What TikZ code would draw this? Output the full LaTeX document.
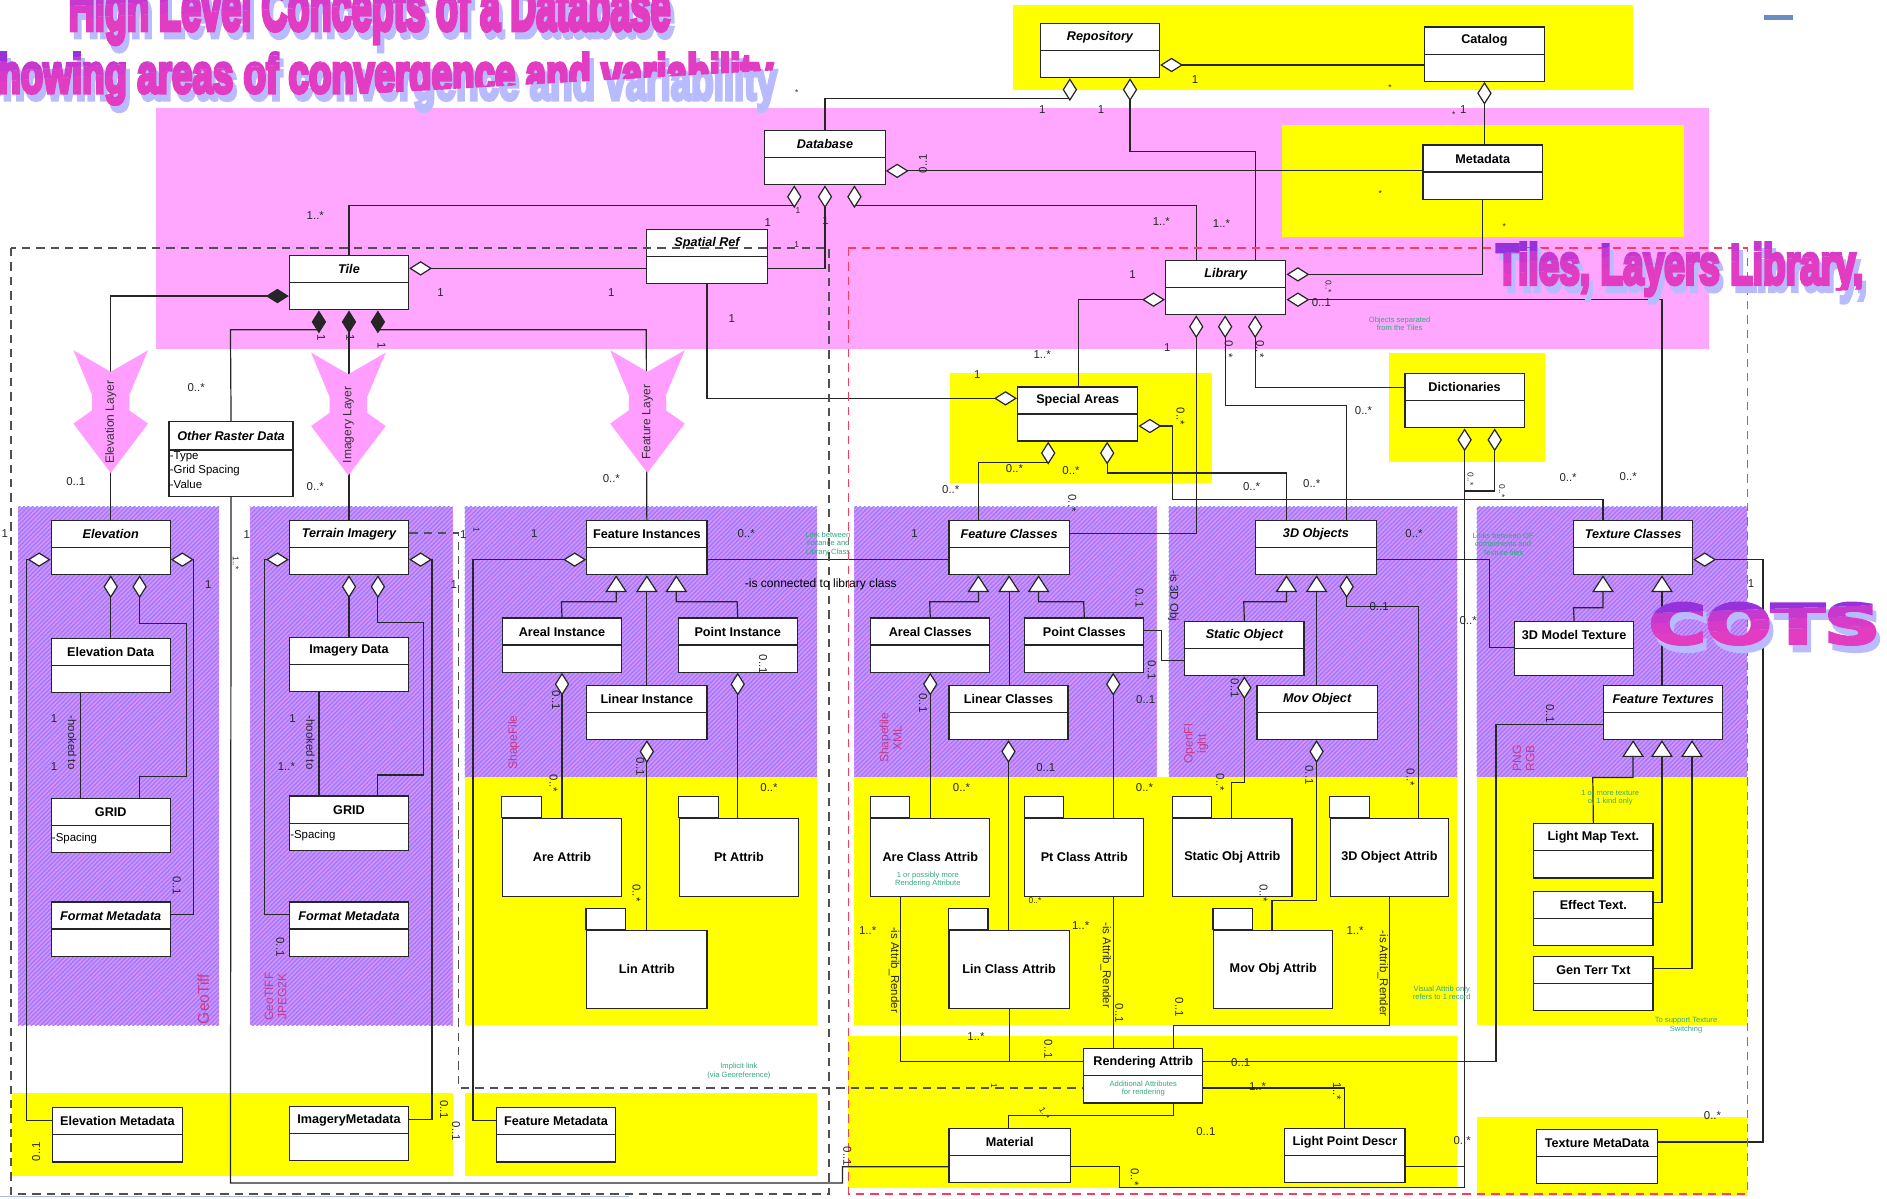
\documentclass[tikz,border=0pt]{standalone}
\usepackage{fontspec}
\setmainfont{Liberation Sans}
\newfontfamily\bannerfont{Liberation Sans}[BoldFeatures={FakeBold=7}]
\newfontfamily\heavyfont{DejaVu Sans}[BoldFeatures={FakeBold=5}]
\usepackage{graphicx}
\usetikzlibrary{arrows.meta,patterns.meta}

\definecolor{pinkband}{HTML}{FFA6FF}
\definecolor{arrowpink}{HTML}{FF9EFF}
\definecolor{ylw}{HTML}{FFFF00}
\definecolor{hatchbase}{HTML}{E58CF7}
\definecolor{hatchline}{HTML}{8C82FF}
\definecolor{notegreen}{HTML}{33A882}
\definecolor{fmtpink}{HTML}{C43C8C}
\definecolor{reddash}{HTML}{FF3A5C}
\definecolor{greydash}{HTML}{505050}
\definecolor{shadowlav}{HTML}{B8BCFF}
\definecolor{barblue}{HTML}{6A8CC4}
\definecolor{g0}{HTML}{9632DC}
\definecolor{g2}{HTML}{B236D4}
\definecolor{g3}{HTML}{C638CE}
\definecolor{g5}{HTML}{D83BC8}
\definecolor{g6}{HTML}{E23DC2}

\tikzset{
  conn/.style={draw=black!85, line width=1pt},
  aggS/.style={conn, {Diamond[fill=white,length=19pt,width=12pt]}-},
  compS/.style={conn, {Diamond[length=19pt,width=12pt]}-},
  genS/.style={conn, {Triangle[fill=white,length=14pt,width=18pt]}-},
  clsbox/.style={draw=black!85, line width=1pt, fill=white, anchor=north west,
    minimum height=45pt, inner sep=0pt},
  clsline/.style={draw=black!85, line width=1pt},
  clstitle/.style={font=\bfseries\fontsize{10.5}{12}\selectfont, inner sep=0pt},
  mult/.style={font=\fontsize{9.5}{11}\selectfont, inner sep=0pt, text=black!85},
  tiny/.style={font=\fontsize{7}{8}\selectfont},
  note/.style={font=\fontsize{6.3}{7}\selectfont, text=notegreen, align=center, inner sep=0pt},
  fmtlbl/.style={font=\fontsize{10}{11}\selectfont, text=fmtpink, rotate=90, align=center, inner sep=0pt},
  hatch/.style={preaction={fill=hatchbase}, pattern={Lines[angle=45,distance=2.6pt,line width=1.1pt]}, pattern color=hatchline},
  greydashed/.style={draw=greydash, line width=1.3pt, dash pattern=on 7pt off 5pt},
  reddashed/.style={draw=reddash, line width=1.3pt, dash pattern=on 7pt off 5pt},
  layertext/.style={rotate=90, font=\fontsize{10}{11}\selectfont, text=black!80, inner sep=0pt},
}

% class box: name, x, y, width, title
\newcommand{\umlclass}[5]{%
  \node[clsbox, minimum width=#4pt] (#1) at (#2,#3) {};
  \draw[clsline] ([yshift=-23pt]#1.north west) -- ([yshift=-23pt]#1.north east);
  \node[clstitle] at ([yshift=-11.8pt]#1.north) {#5};
}
% package box: name, x, tab top, width, title
\newcommand{\umlpkg}[5]{%
  \draw[clsline, fill=white] (#2,#3) rectangle ++(33,17.5);
  \node[clsbox, minimum width=#4pt, minimum height=65pt] (#1) at (#2,#3+17.5) {};
  \node[clstitle] at (#1.center) {#5};
}
% layer arrow: name, centre x, top y, text
\newcommand{\layerarrow}[4]{%
  \fill[arrowpink] (#2-31,#3) -- (#2,#3+18) -- (#2+31,#3) -- (#2+15.5,#3+37) -- (#2+15.5,#3+50)
    -- (#2+31,#3+61) -- (#2,#3+102) -- (#2-31,#3+61) -- (#2-15.5,#3+50) -- (#2-15.5,#3+37) -- cycle;
  \node[layertext] (#1) at (#2,#3+60) {#4};
}
% banner text with shadow and vertical colour ramp: x, y, angle, width, height, text
\newcommand{\gradtext}[6]{%
  \begin{scope}[shift={(#1,#2)}, rotate=#3]
    \node[anchor=base west, inner sep=0pt, text=shadowlav] at (3pt,-6pt) {\resizebox{#4pt}{#5pt}{#6}};
    \foreach \lo/\hi/\gcol in {-0.6/0.25/g6, 0.25/0.5/g5, 0.5/0.75/g3, 0.75/1.6/g0} {
      \begin{scope}
        \clip ({-30pt},{\lo*#5pt}) rectangle ({#4pt+30pt},{\hi*#5pt});
        \node[anchor=base west, inner sep=0pt, text=\gcol] at (0pt,0pt) {\resizebox{#4pt}{#5pt}{#6}};
      \end{scope}
    }
  \end{scope}
}

\begin{document}
\begin{tikzpicture}[x=1pt,y=-1pt]
\clip (0,0) rectangle (1568,996);
\fill[white] (0,0) rectangle (1568,996);

% ---------- coloured regions ----------
\fill[ylw] (842,4) rectangle (1357,75);
\fill[pinkband] (130,90) rectangle (1420,290);
\fill[ylw] (1065,104) rectangle (1399,197);
\fill[ylw] (789,310) rectangle (1007,401);
\fill[ylw] (1154,293) rectangle (1284,384);

\path[hatch] (15,421) rectangle (182,852);
\path[hatch] (208,421) rectangle (376,852);
\path[hatch] (386,421) rectangle (679,646);
\path[hatch] (710,421) rectangle (961,646);
\path[hatch] (971,421) rectangle (1211,646);
\path[hatch] (1227,421) rectangle (1452,646);

\fill[ylw] (386,646) rectangle (679,852);
\fill[ylw] (710,646) rectangle (1211,852);
\fill[ylw] (1227,646) rectangle (1452,852);
\fill[ylw] (705,861) rectangle (1211,987);
\fill[ylw] (10,908) rectangle (376,977);
\fill[ylw] (386,908) rectangle (679,977);
\fill[ylw] (1227,928) rectangle (1452,994);

\fill[barblue] (1466,12.5) rectangle (1490,17);
\draw[barblue!60, line width=0.8pt] (0,994.5) -- (523,994.5);

% ---------- boxes ----------
\umlclass{repo}{864}{19}{99}{\itshape Repository}
\umlclass{catalog}{1183}{22}{100}{Catalog}
\umlclass{database}{635}{108}{100}{\itshape Database}
\umlclass{metadata}{1182}{120}{99}{Metadata}
\umlclass{tile}{240}{212}{99}{\itshape Tile}
\umlclass{spatial}{537}{190}{100}{\itshape Spatial Ref}
\umlclass{library}{968}{216}{100}{\itshape Library}
\umlclass{special}{845}{321}{100}{Special Areas}
\umlclass{dict}{1167}{310}{99}{Dictionaries}

\node[clsbox, minimum width=103pt, minimum height=62pt] (other) at (140,350) {};
\draw[clsline] ([yshift=-24pt]other.north west) -- ([yshift=-24pt]other.north east);
\node[clstitle] at ([yshift=-12pt]other.north) {\itshape Other Raster Data};
\node[anchor=north west, align=left, inner sep=0pt, font=\fontsize{9.5}{12}\selectfont]
  at ([xshift=1pt,yshift=-25pt]other.north west) {-Type\\-Grid Spacing\\-Value};

\umlclass{elev}{42}{432}{99}{\itshape Elevation}
\umlclass{terrain}{240}{432}{99}{\itshape Terrain Imagery}
\umlclass{featinst}{487}{432}{100}{Feature Instances}
\umlclass{featcls}{788}{432}{100}{\itshape Feature Classes}
\umlclass{obj3d}{1043}{432}{100}{\itshape 3D Objects}
\umlclass{texcls}{1307}{432}{99}{\itshape Texture Classes}

\umlclass{elevdata}{42}{530}{99}{Elevation Data}
\umlclass{imgdata}{240}{529}{99}{Imagery Data}
\umlclass{arealinst}{417}{513}{99}{Areal Instance}
\umlclass{pointinst}{563}{513}{99}{Point Instance}
\umlclass{linearinst}{487}{569}{100}{Linear Instance}
\umlclass{arealcls}{723}{513}{99}{Areal Classes}
\umlclass{pointcls}{851}{513}{99}{Point Classes}
\umlclass{linearcls}{788}{569}{99}{Linear Classes}
\umlclass{staticobj}{984}{516}{99}{\itshape Static Object}
\umlclass{movobj}{1044}{569}{100}{\itshape Mov Object}
\umlclass{modeltex}{1258}{516}{99}{3D Model Texture}
\umlclass{feattex}{1332}{569}{99}{\itshape Feature Textures}

\umlclass{gridE}{42}{663}{99}{GRID}
\node[anchor=west, inner sep=0pt, font=\fontsize{9.5}{11}\selectfont] at ([xshift=1pt,yshift=-33.5pt]gridE.north west) {-Spacing};
\umlclass{gridI}{240}{661}{99}{GRID}
\node[anchor=west, inner sep=0pt, font=\fontsize{9.5}{11}\selectfont] at ([xshift=1pt,yshift=-33.5pt]gridI.north west) {-Spacing};
\umlclass{fmtE}{42}{749}{99}{\itshape Format Metadata}
\umlclass{fmtI}{240}{749}{99}{\itshape Format Metadata}

\umlpkg{areattr}{417}{662}{99}{Are Attrib}
\umlpkg{ptattr}{564}{662}{99}{Pt Attrib}
\umlpkg{linattr}{487}{755}{100}{Lin Attrib}
\umlpkg{areclsattr}{723}{662}{99}{Are Class Attrib}
\umlpkg{ptclsattr}{851}{662}{99}{Pt Class Attrib}
\umlpkg{linclsattr}{788}{755}{100}{Lin Class Attrib}
\umlpkg{staticattr}{974}{662}{99}{Static Obj Attrib}
\umlpkg{objattr}{1105}{662}{98}{3D Object Attrib}
\umlpkg{movattr}{1008}{755}{99}{Mov Obj Attrib}

\umlclass{lightmap}{1274}{684}{99}{Light Map Text.}
\umlclass{effect}{1274}{740}{99}{Effect Text.}
\umlclass{genterr}{1274}{794}{99}{Gen Terr Txt}

\umlclass{elevmeta}{43}{920}{108}{Elevation Metadata}
\umlclass{imgmeta}{240}{919}{99}{ImageryMetadata}
\umlclass{featmeta}{412}{920}{99}{Feature Metadata}
\umlclass{render}{900}{871}{99}{Rendering Attrib}
\umlclass{material}{788}{937}{101}{Material}
\umlclass{lightpt}{1067}{937}{100}{Light Point Descr}
\umlclass{texmeta}{1276}{938}{101}{Texture MetaData}

% ---------- connectors ----------
\draw[aggS] (repo.east |- 0,54) -- (catalog.west |- 0,54);
\draw[aggS] (repo.south -| 889,0) -- (889,82) -| (database.north);
\draw[aggS] (repo.south -| 939,0) -- (939,126) -| (library.north -| 1043,0);
\draw[aggS] (catalog.south) -- (catalog.south |- metadata.north);
\draw[aggS] (database.east |- 0,142) -- (metadata.west |- 0,142);
\draw[aggS] (database.south -| 660,0) -- (660,171) -| (tile.north);
\draw[aggS] (database.south) |- (spatial.east |- 0,223);
\draw[aggS] (database.south -| 710,0) -- (710,171) -| (library.north -| 994,0);
\draw[aggS] (tile.east |- 0,223) -- (spatial.west |- 0,223);
\draw[aggS] (special.west |- 0,331) -| (spatial.south);
\draw[aggS] (library.west |- 0,249) -| (special.north -| 896,0);
\draw[aggS] (library.south -| 994,0) |- (featcls.east |- 0,443);
\draw[aggS] (library.south -| 1018,0) |- (1119,337) -- (obj3d.north -| 1119,0);
\draw[aggS] (library.south -| 1043,0) |- (dict.west |- 0,322);
\draw[aggS] (library.east |- 0,228) -| (metadata.south -| 1232,0);
\draw[aggS] (library.east |- 0,249) -| (texcls.north -| 1381,0);
\draw[aggS] (special.south -| 871,0) |- (813,384) -- (featcls.north -| 813,0);
\draw[aggS] (special.south -| 920,0) |- (1069,393) -- (obj3d.north -| 1069,0);
\draw[aggS] (special.east |- 0,354) -| (974,415) -| (texcls.north -| 1332,0);
\draw[aggS] (dict.south -| 1217,0) -- (1217,987) -| (930,969.5) -- (material.east |- 0,969.5);
\draw[conn] (lightpt.east |- 0,969.5) -- (1217,969.5);
\draw[aggS] (dict.south -| 1242,0) |- (1217,408);

\draw[compS] (tile.west |- 0,246) -| (elev.north);
\draw[compS] (tile.south -| 265,0) |- (191.5,274) -- (other.north);
\draw[compS] (tile.south) -- (terrain.north);
\draw[compS] (tile.south -| 314,0) |- (537,274) -- (featinst.north);
\draw[conn] (other.south) -- (191.5,983) -| (700,969.5) -- (material.west |- 0,969.5);

\draw[aggS] (elev.west |- 0,465) -| (22,931) -- (elevmeta.west |- 0,931);
\draw[aggS] (elev.east |- 0,465) -| (161,760) -- (fmtE.east |- 0,760);
\draw[aggS] (elev.south) -- (elevdata.north);
\draw[aggS] (elev.south -| 116,0) |- (155,518) |- (116,645) -- (gridE.north -| 116,0);
\draw[conn] (elevdata.south -| 67,0) -- (gridE.north -| 67,0);

\draw[aggS] (terrain.west |- 0,465) -| (220,760) -- (fmtI.west |- 0,760);
\draw[aggS] (terrain.east |- 0,465) -| (359,930) -- (imgmeta.east |- 0,930);
\draw[aggS] (terrain.south) -- (imgdata.north);
\draw[aggS] (terrain.south -| 314,0) |- (352,517) |- (314,644) -- (gridI.north -| 314,0);
\draw[conn] (imgdata.south -| 265,0) -- (gridI.north -| 265,0);

\draw[aggS] (featinst.west |- 0,465) -| (393,931) -- (featmeta.west |- 0,931);
\draw[conn] (featinst.east |- 0,465) -- (featcls.west |- 0,465);
\draw[genS] (featinst.south -| 512,0) |- (466.5,500) -- (arealinst.north);
\draw[genS] (featinst.south) -- (linearinst.north);
\draw[genS] (featinst.south -| 562,0) |- (612.5,500) -- (pointinst.north);
\draw[aggS] (arealinst.south) -- (areattr.north);
\draw[aggS] (pointinst.south) -- (ptattr.north -| pointinst.south);
\draw[aggS] (linearinst.south) -- (linattr.north);

\draw[genS] (featcls.south -| 813,0) |- (772.5,500) -- (arealcls.north);
\draw[genS] (featcls.south) -- (linearcls.north -| featcls.south);
\draw[genS] (featcls.south -| 863,0) |- (900.5,500) -- (pointcls.north);
\draw[aggS] (arealcls.south) -- (areclsattr.north -| arealcls.south);
\draw[aggS] (pointcls.south -| 925,0) -- (ptclsattr.north -| 925,0);
\draw[aggS] (linearcls.south) -- (linclsattr.north -| linearcls.south);
\draw[conn] (pointcls.east |- 0,524) -| (965,549) -- (staticobj.west |- 0,549);
\draw[conn] (areclsattr.south -| 748,0) |- (render.west |- 0,882);
\draw[conn] (linclsattr.south) -- (linclsattr.south |- 0,882);
\draw[conn] (ptclsattr.south -| 925,0) -- (render.north -| 925,0);

\draw[genS] (obj3d.south -| 1069,0) |- (1033.5,500) -- (staticobj.north);
\draw[genS] (obj3d.south -| 1094,0) -- (movobj.north -| 1094,0);
\draw[aggS] (obj3d.south -| 1119,0) |- (1179,504) -- (objattr.north -| 1179,0);
\draw[aggS] (staticobj.south) |- (1023,650) -- (staticattr.north -| 1023,0);
\draw[aggS] (movobj.south -| 1094,0) |- (1057,748) -- (movattr.north -| 1057,0);
\draw[conn] (objattr.south) |- (975,852) -- (render.north -| 975,0);
\draw[conn] (obj3d.east |- 0,465) -| (1238,538) -- (modeltex.west |- 0,538);

\draw[genS] (texcls.south -| 1332,0) |- (1307.5,505) -- (modeltex.north);
\draw[genS] (texcls.south -| 1381,0) -- (feattex.north -| 1381,0);
\draw[aggS] (texcls.east |- 0,465) -| (1465,949) -- (texmeta.east |- 0,949);
\draw[genS] (feattex.south -| 1357,0) |- (1323.5,646) -- (lightmap.north);
\draw[genS] (feattex.south -| 1381,0) |- (effect.east |- 0,750);
\draw[genS] (feattex.south -| 1406,0) |- (genterr.east |- 0,805);
\draw[conn] (feattex.west |- 0,602) -| (1243,882) -- (render.east |- 0,882);

\draw[conn] (render.east |- 0,904) -| (lightpt.north -| 1117,0);
\draw[conn] (render.south -| 975,0) |- (838,927) -- (material.north -| 838,0);

\draw[greydashed] (terrain.east |- 0,443) -| (381,904) -- (render.west |- 0,904);

% ---------- layer arrows ----------
\layerarrow{elevlayer}{92}{291}{Elevation Layer}
\layerarrow{imglayer}{289.5}{293}{Imagery Layer}
\layerarrow{featlayer}{538}{291}{Feature Layer}

% ---------- grouping frames ----------
\draw[greydashed] (9,206) rectangle (689,992);
\draw[reddashed] (705,206) rectangle (1452,992);

% ---------- multiplicities and notes ----------
\node[mult] at (993,66) {1};
\node[mult] at (866,91) {1};
\node[mult] at (915,91) {1};
\node[mult, tiny] at (662,77) {*};
\node[mult, tiny] at (1155,73) {*};
\node[mult, tiny] at (1208,95) {*};
\node[mult] at (1216,91) {1};
\node[mult, rotate=90] at (767,136) {0..1};
\node[mult, tiny] at (1147,161) {*};
\node[mult, tiny] at (1250,188) {*};
\node[mult] at (262,179) {1..*};
\node[mult, tiny] at (663,175) {1};
\node[mult] at (638,185) {1};
\node[mult] at (686,183) {1};
\node[mult, tiny] at (662,203) {1};
\node[mult] at (965,184) {1..*};
\node[mult] at (1015,186) {1..*};
\node[mult] at (366,243) {1};
\node[mult] at (508,243) {1};
\node[mult] at (941,228) {1};
\node[mult] at (608,265) {1};
\node[mult] at (1098,251) {0..1};
\node[mult, tiny, rotate=-90] at (1104,238) {0..*};
\node[note] at (1163,269) {Objects separated\\from the Tiles};
\node[mult] at (866,295) {1..*};
\node[mult] at (970,289) {1};
\node[mult, rotate=-90] at (1021,290) {0..*};
\node[mult, rotate=-90] at (1047,290) {0..*};
\node[mult] at (812,311) {1};
\node[mult, rotate=-90] at (981,346) {0..*};
\node[mult] at (1133,341) {0..*};
\node[mult] at (843,389) {0..*};
\node[mult] at (890,391) {0..*};
\node[mult] at (790,407) {0..*};
\node[mult, rotate=-90] at (891,418) {0..*};
\node[mult] at (1040,404) {0..*};
\node[mult] at (1090,402) {0..*};
\node[mult, tiny, rotate=-90] at (1222,398) {0..*};
\node[mult, tiny, rotate=-90] at (1248,408) {0..*};
\node[mult] at (1303,397) {0..*};
\node[mult] at (1353,396) {0..*};

\node[mult, rotate=-90] at (267,281) {1};
\node[mult, rotate=-90] at (291,281) {1};
\node[mult, rotate=-90] at (317,287) {1};
\node[mult] at (163,322) {0..*};
\node[mult] at (63,400) {0..1};
\node[mult] at (262,404) {0..*};
\node[mult] at (508,398) {0..*};

\node[mult] at (4,443) {1};
\node[mult] at (205,444) {1};
\node[mult] at (173,486) {1};
\node[mult, tiny, rotate=-90] at (196,468) {1..*};
\node[mult] at (377,486) {1};
\node[mult] at (385,444) {1};
\node[mult, tiny, rotate=-90] at (396,440) {1};
\node[mult] at (444,443) {1};
\node[mult] at (620,443) {0..*};
\node[mult] at (760,443) {1};
\node[note] at (688,452) {Link between\\instance and\\Library Class};
\node[inner sep=0pt, font=\fontsize{10}{11}\selectfont] at (682,486) {-is connected to library class};
\node[mult] at (1175,443) {0..*};
\node[note] at (1249,452) {Links between OF\\components and\\Texture files};
\node[mult] at (1455,485) {1};
\node[mult] at (1146,504) {0..1};
\node[mult] at (1220,516) {0..*};
\node[mult, rotate=-90] at (975,495) {-is 3D Obj};
\node[mult, rotate=-90] at (947,497) {0..1};

\node[mult] at (45,597) {1};
\node[mult] at (45,637) {1};
\node[mult, rotate=-90] at (60,617) {-hooked to};
\node[mult] at (243,597) {1};
\node[mult] at (238,637) {1..*};
\node[mult, rotate=-90] at (258,617) {-hooked to};

\node[mult, rotate=-90] at (462,582) {0..1};
\node[mult, rotate=-90] at (460,651) {0..*};
\node[mult, rotate=-90] at (634,552) {0..1};
\node[mult] at (639,654) {0..*};
\node[mult, rotate=-90] at (532,637) {0..1};
\node[mult, rotate=-90] at (529,742) {0..*};

\node[mult, rotate=-90] at (767,584) {0..1};
\node[mult] at (799,654) {0..*};
\node[mult, rotate=-90] at (957,557) {0..1};
\node[mult] at (952,581) {0..1};
\node[mult] at (869,638) {0..1};
\node[mult] at (951,654) {0..*};
\node[mult, tiny] at (860,748) {0..*};

\node[mult, rotate=-90] at (1026,572) {0..1};
\node[mult, rotate=-90] at (1014,650) {0..*};
\node[mult, rotate=-90] at (1088,644) {0..1};
\node[mult, rotate=-90] at (1172,646) {0..*};
\node[mult, rotate=-90] at (1050,742) {0..*};

\node[mult, rotate=-90] at (1288,593) {0..1};
\node[note] at (1338,663) {1 or more texture\\of 1 kind only};

\node[mult] at (721,773) {1..*};
\node[mult, rotate=-90] at (743,806) {-is Attrib\_Render};
\node[mult] at (898,769) {1..*};
\node[mult, rotate=-90] at (919,802) {-is Attrib\_Render};
\node[mult, rotate=-90] at (930,842) {0..1};
\node[mult, rotate=-90] at (980,837) {0..1};
\node[mult] at (1126,773) {1..*};
\node[mult, rotate=-90] at (1149,809) {-is Attrib\_Render};
\node[note] at (1198,825) {Visual Attrib only\\refers to 1 record};
\node[note] at (1401,852) {To support Texture\\Switching};
\node[note] at (771,731) {1 or possibly more\\Rendering Attribute};
\node[note] at ([yshift=-33.5pt]render.north) {Additional Attributes\\for rendering};

\node[mult] at (811,861) {1..*};
\node[mult, rotate=-90] at (871,872) {0..1};
\node[mult, tiny, rotate=-90] at (826,902) {1};
\node[mult] at (1031,883) {0..1};
\node[mult] at (1045,903) {1..*};
\node[mult, tiny, rotate=-60] at (868,925) {1..*};
\node[mult] at (1002,940) {0..1};
\node[mult, rotate=-90] at (704,961) {0..1};
\node[mult, rotate=-90] at (943,978) {0..*};
\node[mult] at (1215,948) {0..*};
\node[mult, rotate=-90] at (1111,907) {1..*};
\node[mult] at (1423,927) {0..*};
\node[note] at (614,890) {Implicit link\\(via Georeference)};

\node[mult, rotate=90] at (30,957) {0..1};
\node[mult, rotate=-90] at (147,736) {0..1};
\node[mult, rotate=-90] at (233,787) {0..1};
\node[mult, rotate=-90] at (369,922) {0..1};
\node[mult, rotate=-90] at (379,940) {0..1};

% format tags
\node[fmtlbl, font=\fontsize{13}{14}\selectfont] at (169,830) {GeoTiff};
\node[fmtlbl] at (229,828) {GeoTIFF\\JPEG2K};
\node[fmtlbl] at (427,617) {ShapeFile};
\node[fmtlbl] at (740,613) {Shapefile\\XML};
\node[fmtlbl] at (994,618) {OpenFl\\ight};
\node[fmtlbl] at (1266,630) {PNG\\RGB};

% ---------- banner texts ----------
\gradtext{57}{25}{2.5}{500}{40}{\bannerfont\bfseries High Level Concepts of a Database}
\gradtext{-22}{77}{3.3}{664}{33}{\bannerfont\bfseries Showing areas of convergence and variability}
\gradtext{1243}{236}{3}{305}{34}{\bannerfont\bfseries Tiles, Layers Library,}
\gradtext{1370}{535}{2}{192}{34}{\heavyfont\bfseries COTS}

\end{tikzpicture}
\end{document}
